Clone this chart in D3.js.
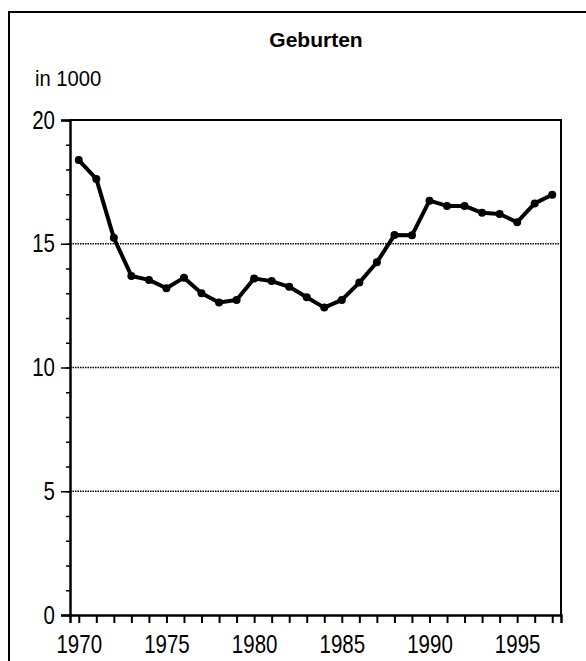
<!DOCTYPE html>
<html>
<head>
    <style>
        body { margin: 0; background: #fff; }
        svg text { fill: #000; font-family: "Liberation Sans", Arial, sans-serif; }
    </style>
</head>
<body>
    <svg width="586" height="661"></svg>

    <script src="https://cdn.jsdelivr.net/npm/d3@7/dist/d3.min.js"></script>
    <script>
        // Geburten in 1000, 1970-1997
        var years = [1970, 1971, 1972, 1973, 1974, 1975, 1976, 1977, 1978, 1979,
                     1980, 1981, 1982, 1983, 1984, 1985, 1986, 1987, 1988, 1989,
                     1990, 1991, 1992, 1993, 1994, 1995, 1996, 1997];
        var births = [18.38, 17.62, 15.24, 13.70, 13.54, 13.20, 13.63, 13.00, 12.63, 12.73,
                      13.60, 13.49, 13.26, 12.84, 12.42, 12.73, 13.43, 14.25, 15.35, 15.34,
                      16.74, 16.53, 16.53, 16.25, 16.20, 15.87, 16.63, 16.98];
        var yTicks = [0, 5, 10, 15, 20];
        var xTickLabels = [1970, 1975, 1980, 1985, 1990, 1995];
        var title = "Geburten";
        var unitLabel = "in 1000";

        var svg = d3.select("svg");

        var x = d3.scaleLinear().domain([1969.5, 1997.5]).range([70, 561]);
        var y = d3.scaleLinear().domain([0, 20]).range([615, 120]);

        // schmale Schrift: Liberation Sans horizontal gestaucht
        var squeeze = 0.82;

        // Rahmen aussen
        svg.append("rect")
            .attr("x", 9).attr("y", 12)
            .attr("width", 620).attr("height", 700)
            .attr("fill", "none").attr("stroke", "#000").attr("stroke-width", 2);

        svg.append("text")
            .attr("x", 316).attr("y", 47)
            .attr("text-anchor", "middle")
            .style("font-weight", "bold")
            .style("font-size", "21px")
            .text(title);

        svg.append("text")
            .attr("transform", "translate(35,86) scale(0.92,1)")
            .style("font-size", "22px")
            .text(unitLabel);

        // Gitterlinien (gepunktet)
        svg.append("g")
            .selectAll("line")
            .data(yTicks.filter(function(d) { return d > 0 && d < 20; }))
            .enter().append("line")
            .attr("x1", x.range()[0]).attr("x2", x.range()[1])
            .attr("y1", function(d) { return y(d); })
            .attr("y2", function(d) { return y(d); })
            .attr("stroke", "#000")
            .attr("stroke-width", 1.5)
            .attr("stroke-dasharray", "1.5,1");

        // Plotrahmen oben/rechts
        svg.append("path")
            .attr("d", "M" + x.range()[0] + "," + y(20) + "H" + x.range()[1] + "V" + y(0))
            .attr("fill", "none").attr("stroke", "#000").attr("stroke-width", 2);

        // y-Achse: kleine Ticks
        var yAxisMinor = d3.axisLeft(y).ticks(20).tickSize(4).tickFormat("");
        svg.append("g")
            .attr("transform", "translate(" + x.range()[0] + ",0)")
            .call(yAxisMinor)
            .call(function(g) { g.select(".domain").remove(); })
            .selectAll("line").attr("stroke-width", 1.5);

        var yAxis = d3.axisLeft(y).tickValues(yTicks).tickSize(9).tickPadding(6).tickFormat(d3.format("d"));
        var gy = svg.append("g")
            .attr("transform", "translate(" + x.range()[0] + ",0)")
            .attr("font-family", null)
            .call(yAxis);
        gy.select(".domain").attr("stroke-width", 2.5);
        gy.selectAll("line").attr("stroke-width", 1.5);
        gy.selectAll("text")
            .style("font-size", "25px")
            .attr("fill", "#000")
            .attr("x", -15 / squeeze)
            .attr("transform", "scale(" + squeeze + ",1)");

        // x-Achse
        var xAxis = d3.axisBottom(x).tickValues(years).tickSize(8).tickPadding(12)
            .tickFormat(function(d) { return xTickLabels.indexOf(d) >= 0 ? d : ""; });
        var gx = svg.append("g")
            .attr("transform", "translate(0," + y(0) + ")")
            .attr("font-family", null)
            .call(xAxis);
        gx.select(".domain").attr("stroke-width", 2.5);
        gx.selectAll("line").attr("stroke-width", 2);
        gx.selectAll("text")
            .style("font-size", "25px")
            .attr("fill", "#000")
            .attr("transform", "scale(" + squeeze + ",1)");
        svg.selectAll(".domain").attr("stroke", "#000");
        svg.selectAll(".tick line").attr("stroke", "#000");

        // Linie
        var line = d3.line()
            .x(function(d, i) { return x(years[i]); })
            .y(function(d) { return y(d); });

        svg.append("path")
            .datum(births)
            .attr("d", line)
            .attr("fill", "none")
            .attr("stroke", "#000")
            .attr("stroke-width", 4)
            .attr("stroke-linejoin", "round");

        svg.append("g")
            .selectAll("circle")
            .data(births)
            .enter().append("circle")
            .attr("cx", function(d, i) { return x(years[i]); })
            .attr("cy", function(d) { return y(d); })
            .attr("r", 4)
            .attr("fill", "#000");
    </script>
</body>
</html>
